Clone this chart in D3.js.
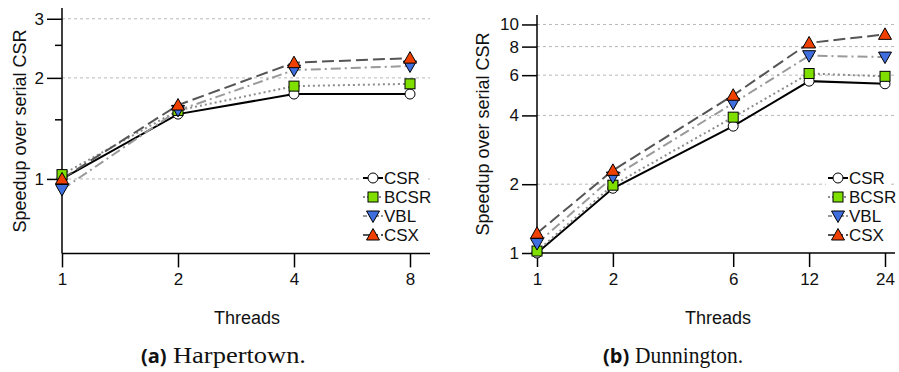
<!DOCTYPE html>
<html>
<head>
<meta charset="utf-8">
<script src="https://cdn.jsdelivr.net/npm/d3@7"></script>
<style>
  html, body { margin: 0; padding: 0; background: #fff; }
  svg { display: block; font-family: "Liberation Sans", Arial, sans-serif; }
  text { fill: #111; }
</style>
</head>
<body>
<svg id="fig" width="899" height="372"></svg>
<script>
// Speedup measurements (relative to serial CSR)
const seriesNames = ["CSR", "BCSR", "VBL", "CSX"];

const harpThreads = [1, 2, 4, 8];
const harpCSR  = [1.00, 1.56, 1.79, 1.79];
const harpBCSR = [1.03, 1.60, 1.89, 1.92];
const harpVBL  = [0.93, 1.60, 2.11, 2.17];
const harpCSX  = [1.00, 1.66, 2.22, 2.29];
const harpYTicks = [1, 2, 3];
const harpYMinor = [1.5, 2.5];

const dunnThreads = [1, 2, 6, 12, 24];
const dunnCSR  = [1.00, 1.92, 3.59, 5.65, 5.50];
const dunnBCSR = [1.02, 1.98, 3.93, 6.10, 5.93];
const dunnVBL  = [1.10, 2.15, 4.52, 7.30, 7.20];
const dunnCSX  = [1.22, 2.30, 4.90, 8.30, 9.05];
const dunnYTicks = [1, 2, 4, 6, 8, 10];

// Per-series styling
const styles = {
  CSR:  { stroke: "#000",    dash: null,       legendDash: null,  marker: "circle",  fill: "#fff" },
  BCSR: { stroke: "#8c8c8c", dash: "2,3",      legendDash: "2,2", marker: "square",  fill: "#7fe000" },
  VBL:  { stroke: "#9a9a9a", dash: "10,4,2,4", legendDash: "4,2", marker: "tridown", fill: "#3f6fdf" },
  CSX:  { stroke: "#555",    dash: "12,5",     legendDash: "6,3", marker: "triup",   fill: "#f04000" }
};

const svg = d3.select("#fig");

function drawMarker(g, type, fill) {
  let m;
  if (type === "circle") {
    m = g.append("circle").attr("r", 5);
  } else if (type === "square") {
    m = g.append("rect").attr("x", -5).attr("y", -5).attr("width", 10).attr("height", 10);
  } else if (type === "triup") {
    m = g.append("path").attr("d", "M0,-6.5L6.5,5L-6.5,5Z");
  } else {
    m = g.append("path").attr("d", "M0,6.5L6.5,-5L-6.5,-5Z");
  }
  m.attr("fill", fill).attr("stroke", "#000").attr("stroke-width", 1);
}

function panel(cfg) {
  const g = svg.append("g");
  const x = d3.scaleLog().domain(cfg.xDomain).range(cfg.xRange);
  const y = d3.scaleLog().domain(cfg.yDomain).range(cfg.yRange);

  // gridlines
  g.append("g").selectAll("line").data(cfg.grid).join("line")
    .attr("x1", cfg.xRange[0]).attr("x2", cfg.axisEnd)
    .attr("y1", d => y(d)).attr("y2", d => y(d))
    .attr("stroke", "#b8b8b8").attr("stroke-width", 1)
    .attr("stroke-dasharray", "3,3");

  // x axis
  const xAxis = d3.axisBottom(x).tickValues(cfg.threads)
    .tickFormat(d3.format("d")).tickSize(14).tickSizeOuter(0).tickPadding(6);
  const xg = g.append("g").attr("transform", `translate(0,${cfg.yRange[0]})`).call(xAxis);
  xg.select(".domain").remove();
  xg.append("line").attr("x1", cfg.xRange[0]).attr("x2", cfg.axisEnd)
    .attr("stroke", "#000").attr("stroke-width", 1.5);
  xg.selectAll(".tick line").attr("stroke", "#000").attr("stroke-width", 1.5);
  xg.selectAll(".tick text").attr("fill", "#111")
    .style("font-size", "17px").style("font-family", "'Liberation Sans', Arial, sans-serif");

  // y axis
  const yAxis = d3.axisLeft(y).tickValues(cfg.yTicks)
    .tickFormat(d3.format("d")).tickSize(15).tickSizeOuter(0).tickPadding(3);
  const yg = g.append("g").attr("transform", `translate(${cfg.xRange[0]},0)`).call(yAxis);
  yg.select(".domain").remove();
  yg.append("line").attr("y1", cfg.yRange[0]).attr("y2", cfg.yRange[1])
    .attr("stroke", "#000").attr("stroke-width", 1.5);
  yg.selectAll(".tick line").attr("stroke", "#000").attr("stroke-width", 1.5);
  yg.selectAll(".tick text").attr("fill", "#111")
    .style("font-size", "17px").style("font-family", "'Liberation Sans', Arial, sans-serif");
  if (cfg.yMinor) {
    yg.append("g").selectAll("line").data(cfg.yMinor).join("line")
      .attr("x1", -7).attr("x2", 0)
      .attr("y1", d => y(d)).attr("y2", d => y(d))
      .attr("stroke", "#000").attr("stroke-width", 1.5);
  }

  // series lines
  cfg.series.forEach((vals, i) => {
    const st = styles[seriesNames[i]];
    const line = d3.line().x((d, j) => x(cfg.threads[j])).y(d => y(d));
    g.append("path").datum(vals).attr("d", line)
      .attr("fill", "none").attr("stroke", st.stroke).attr("stroke-width", 2)
      .attr("stroke-dasharray", st.dash);
  });
  // markers
  cfg.series.forEach((vals, i) => {
    const st = styles[seriesNames[i]];
    vals.forEach((v, j) => {
      const mg = g.append("g").attr("transform", `translate(${x(cfg.threads[j])},${y(v)})`);
      drawMarker(mg, st.marker, st.fill);
    });
  });

  // legend
  const lg = g.append("g").attr("transform", `translate(${cfg.legendX},${cfg.legendY})`);
  lg.append("rect").attr("x", -2).attr("y", -10).attr("width", 64).attr("height", 77).attr("fill", "#fff");
  seriesNames.forEach((name, i) => {
    const st = styles[name];
    const row = lg.append("g").attr("transform", `translate(0,${i * 19})`);
    row.append("line").attr("x1", 0).attr("x2", 20).attr("y1", 0).attr("y2", 0)
      .attr("stroke", st.stroke).attr("stroke-width", 2)
      .attr("stroke-dasharray", st.legendDash);
    drawMarker(row.append("g").attr("transform", "translate(10,0)"), st.marker, st.fill);
    row.append("text").attr("x", 21).attr("y", 6).style("font-size", "17px").text(name);
  });

  // axis titles
  g.append("text")
    .attr("transform", `translate(${cfg.yLabelX},${cfg.yLabelY}) rotate(-90)`)
    .attr("text-anchor", "middle").style("font-size", "18px")
    .text("Speedup over serial CSR");
  g.append("text").attr("x", cfg.xLabelX).attr("y", 324)
    .attr("text-anchor", "middle").style("font-size", "18px").text("Threads");

  // caption
  g.append("text").attr("x", cfg.capX).attr("y", 363)
    .style("font-family", "'Open Sans', sans-serif").style("font-weight", "700")
    .style("font-size", "20px").text(cfg.capTag);
  g.append("text").attr("x", cfg.capX + 32).attr("y", 363)
    .style("font-family", "'Liberation Serif', 'DejaVu Serif', serif").style("font-size", "23px")
    .attr("textLength", cfg.capLen).attr("lengthAdjust", "spacingAndGlyphs")
    .text(cfg.capName);
}

panel({
  threads: harpThreads,
  series: [harpCSR, harpBCSR, harpVBL, harpCSX],
  xDomain: [1, 8], xRange: [62, 410], axisEnd: 430,
  yDomain: [0.6, 3.23], yRange: [253.4, 8],
  yTicks: harpYTicks, yMinor: harpYMinor, grid: harpYTicks,
  legendX: 363, legendY: 178,
  yLabelX: 26, yLabelY: 131, xLabelX: 247,
  capX: 141, capTag: "(a)", capName: "Harpertown.", capLen: 133
});

panel({
  threads: dunnThreads,
  series: [dunnCSR, dunnBCSR, dunnVBL, dunnCSX],
  xDomain: [1, 24], xRange: [537, 885], axisEnd: 895,
  yDomain: [1, 11], yRange: [253, 15],
  yTicks: dunnYTicks, yMinor: null, grid: [2, 4, 6, 8, 10],
  legendX: 828, legendY: 178,
  yLabelX: 489, yLabelY: 134, xLabelX: 718,
  capX: 603, capTag: "(b)", capName: "Dunnington.", capLen: 108
});
</script>
</body>
</html>
